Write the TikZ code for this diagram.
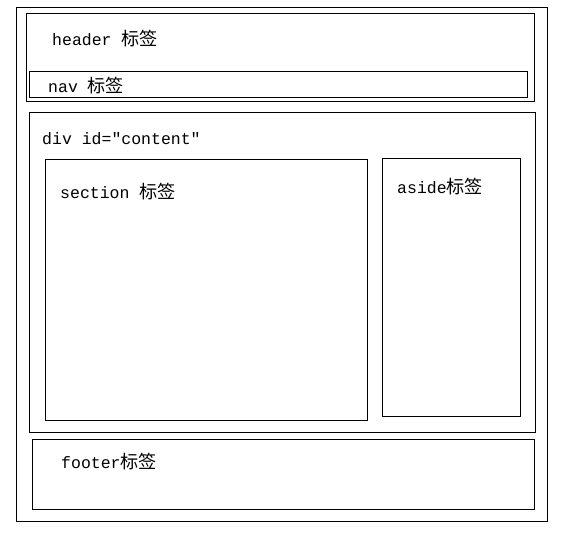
\documentclass[tikz,border=0pt]{standalone}
\usepackage{fontspec}
\setmonofont{Liberation Mono}
\newfontfamily\cjk{Noto Sans CJK SC}[Scale=1.1]
\tikzset{
  box/.style={line width=1pt},
  tag/.style={anchor=west,inner sep=0pt,font=\ttfamily\fontsize{16.5}{16.5}\selectfont}
}

\begin{document}
\begin{tikzpicture}[x=1pt,y=-1pt]
   \useasboundingbox (0,0) rectangle (564,534);
   % page
   \draw[box] (16,8) rectangle (547,521);
   % header and nav
   \draw[box] (26.5,14) rectangle (534,102);
   \draw[box] (29.5,72) rectangle (527,98);
   % content
   \draw[box] (29.5,113) rectangle (535,432);
   \draw[box] (45,160) rectangle (367,420);
   \draw[box] (382,159) rectangle (520,416);
   % footer
   \draw[box] (32,439) rectangle (534,509);
   \node[tag] (header) at (52,39) {header {\cjk 标签}};
   \node[tag] (nav) at (48,86) {nav {\cjk 标签}};
   \node[tag] (content) at (42,139) {div id="content"};
   \node[tag] (section) at (60,192) {section {\cjk 标签}};
   \node[tag] (aside) at (397,187) {aside{\cjk 标签}};
   \node[tag] (footer) at (61,462) {footer{\cjk 标签}};
  \end{tikzpicture}
\end{document}
